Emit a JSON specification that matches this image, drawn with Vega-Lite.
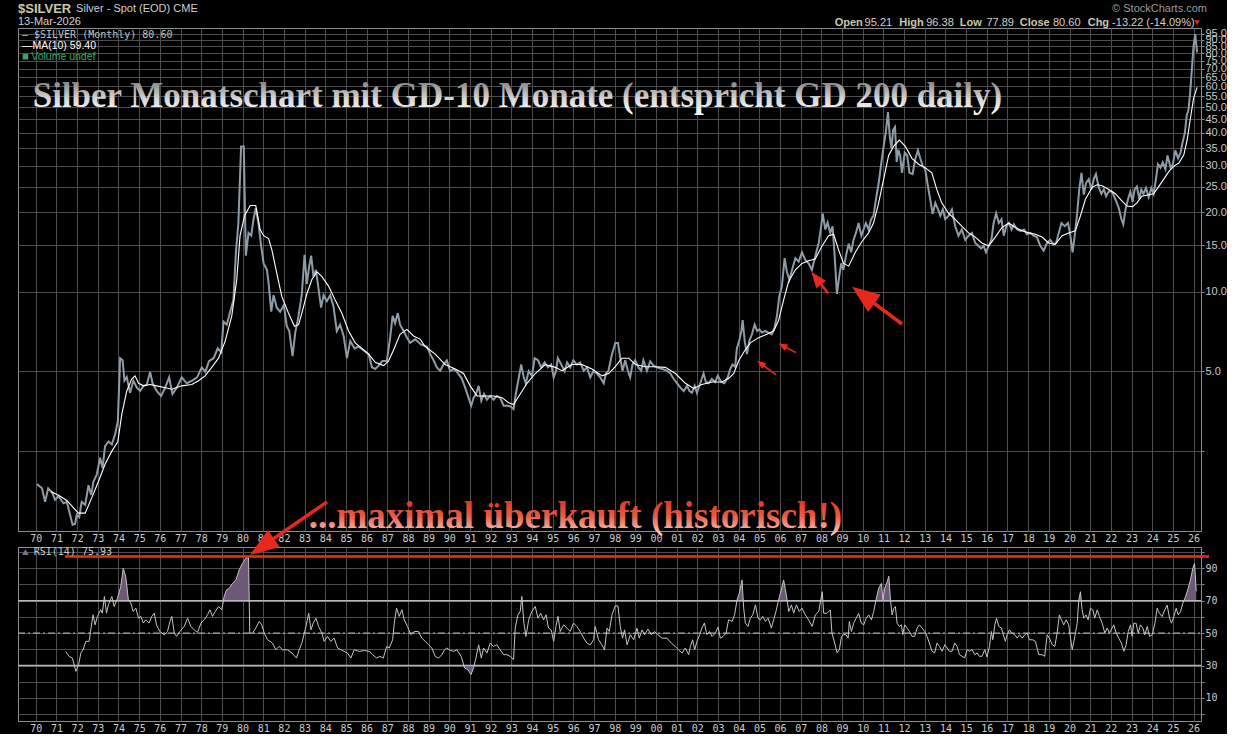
{
"$schema":"https://vega.github.io/schema/vega-lite/v6.json",
"background":"#000000",
"padding":{"left":16,"top":2,"right":0,"bottom":0},
"config":{"view":{"stroke":"#8c8c8c","strokeWidth":1},"axis":{"gridColor":"#4d4d4d","domain":false,"labelColor":"#c8c8c8","labelOverlap":false,"labelSeparation":0}},
"spacing":16,
"bounds":"flush",
"datasets":{
"price":[{"t":1970.05,"v":1.87},{"t":1970.3,"v":1.8},{"t":1970.45,"v":1.6},{"t":1970.6,"v":1.8},{"t":1970.8,"v":1.73},{"t":1970.93,"v":1.63},{"t":1971.1,"v":1.68},{"t":1971.34,"v":1.58},{"t":1971.5,"v":1.6},{"t":1971.66,"v":1.43},{"t":1971.78,"v":1.31},{"t":1971.9,"v":1.32},{"t":1971.98,"v":1.43},{"t":1972.1,"v":1.4},{"t":1972.22,"v":1.6},{"t":1972.39,"v":1.56},{"t":1972.55,"v":1.85},{"t":1972.68,"v":1.7},{"t":1972.79,"v":1.91},{"t":1972.95,"v":2.03},{"t":1973.11,"v":2.35},{"t":1973.23,"v":2.15},{"t":1973.35,"v":2.6},{"t":1973.52,"v":2.71},{"t":1973.68,"v":2.64},{"t":1973.84,"v":2.89},{"t":1973.97,"v":3.24},{"t":1974.08,"v":5.6},{"t":1974.2,"v":5.5},{"t":1974.29,"v":4.6},{"t":1974.4,"v":4.75},{"t":1974.56,"v":4.14},{"t":1974.72,"v":4.6},{"t":1974.89,"v":4.33},{"t":1975.05,"v":4.21},{"t":1975.21,"v":4.4},{"t":1975.37,"v":4.45},{"t":1975.53,"v":4.97},{"t":1975.65,"v":4.5},{"t":1975.85,"v":4.21},{"t":1976.06,"v":4.03},{"t":1976.26,"v":4.33},{"t":1976.45,"v":4.74},{"t":1976.61,"v":4.1},{"t":1976.82,"v":4.33},{"t":1977.06,"v":4.74},{"t":1977.3,"v":4.5},{"t":1977.55,"v":4.6},{"t":1977.8,"v":4.74},{"t":1978.03,"v":5.17},{"t":1978.2,"v":4.97},{"t":1978.38,"v":5.46},{"t":1978.6,"v":5.6},{"t":1978.8,"v":6.1},{"t":1978.97,"v":5.9},{"t":1979.08,"v":7.7},{"t":1979.24,"v":7.5},{"t":1979.4,"v":8.4},{"t":1979.56,"v":9.3},{"t":1979.68,"v":14.1},{"t":1979.8,"v":18.2},{"t":1979.93,"v":35.5},{"t":1980.06,"v":35.5},{"t":1980.16,"v":13.7},{"t":1980.29,"v":16.7},{"t":1980.42,"v":16.3},{"t":1980.53,"v":18.8},{"t":1980.64,"v":20.7},{"t":1980.77,"v":18.2},{"t":1980.9,"v":14.9},{"t":1981.02,"v":12.8},{"t":1981.18,"v":12.1},{"t":1981.26,"v":10.8},{"t":1981.39,"v":8.4},{"t":1981.5,"v":9.7},{"t":1981.66,"v":8.7},{"t":1981.82,"v":8.4},{"t":1982.0,"v":8.9},{"t":1982.14,"v":7.4},{"t":1982.26,"v":7.1},{"t":1982.42,"v":5.7},{"t":1982.55,"v":7.0},{"t":1982.71,"v":8.1},{"t":1982.87,"v":9.8},{"t":1983.0,"v":13.8},{"t":1983.11,"v":10.7},{"t":1983.22,"v":12.4},{"t":1983.32,"v":13.7},{"t":1983.43,"v":11.4},{"t":1983.55,"v":12.1},{"t":1983.68,"v":10.2},{"t":1983.8,"v":8.7},{"t":1983.92,"v":9.7},{"t":1984.08,"v":9.2},{"t":1984.24,"v":9.7},{"t":1984.4,"v":8.8},{"t":1984.56,"v":7.1},{"t":1984.72,"v":7.5},{"t":1984.89,"v":6.8},{"t":1985.05,"v":5.6},{"t":1985.21,"v":6.5},{"t":1985.42,"v":6.1},{"t":1985.6,"v":6.2},{"t":1985.85,"v":6.0},{"t":1986.1,"v":5.8},{"t":1986.26,"v":5.17},{"t":1986.42,"v":5.1},{"t":1986.58,"v":5.25},{"t":1986.76,"v":5.46},{"t":1986.98,"v":5.46},{"t":1987.14,"v":6.7},{"t":1987.26,"v":8.1},{"t":1987.38,"v":7.6},{"t":1987.51,"v":8.3},{"t":1987.62,"v":7.5},{"t":1987.79,"v":7.1},{"t":1987.95,"v":6.7},{"t":1988.11,"v":6.4},{"t":1988.35,"v":6.6},{"t":1988.64,"v":6.3},{"t":1988.92,"v":6.2},{"t":1989.08,"v":5.8},{"t":1989.24,"v":5.5},{"t":1989.4,"v":5.17},{"t":1989.56,"v":5.02},{"t":1989.72,"v":5.3},{"t":1989.88,"v":5.5},{"t":1990.04,"v":5.0},{"t":1990.2,"v":5.1},{"t":1990.37,"v":4.97},{"t":1990.6,"v":4.7},{"t":1990.77,"v":4.33},{"t":1990.93,"v":3.97},{"t":1991.06,"v":3.7},{"t":1991.18,"v":3.97},{"t":1991.29,"v":4.1},{"t":1991.42,"v":4.4},{"t":1991.55,"v":3.86},{"t":1991.68,"v":4.1},{"t":1991.82,"v":3.9},{"t":1991.98,"v":4.03},{"t":1992.14,"v":3.9},{"t":1992.3,"v":4.03},{"t":1992.46,"v":3.97},{"t":1992.63,"v":3.7},{"t":1992.8,"v":3.7},{"t":1992.95,"v":3.68},{"t":1993.11,"v":3.59},{"t":1993.22,"v":4.1},{"t":1993.35,"v":4.67},{"t":1993.48,"v":5.3},{"t":1993.6,"v":4.74},{"t":1993.7,"v":4.5},{"t":1993.84,"v":5.0},{"t":1994.0,"v":4.8},{"t":1994.13,"v":5.6},{"t":1994.29,"v":5.5},{"t":1994.45,"v":5.17},{"t":1994.61,"v":5.4},{"t":1994.77,"v":5.17},{"t":1994.93,"v":5.3},{"t":1995.05,"v":4.74},{"t":1995.16,"v":5.0},{"t":1995.25,"v":5.6},{"t":1995.42,"v":5.3},{"t":1995.58,"v":5.0},{"t":1995.7,"v":5.4},{"t":1995.85,"v":5.17},{"t":1996.0,"v":5.5},{"t":1996.17,"v":5.3},{"t":1996.33,"v":5.4},{"t":1996.5,"v":5.02},{"t":1996.66,"v":5.17},{"t":1996.82,"v":4.74},{"t":1996.98,"v":5.02},{"t":1997.14,"v":4.9},{"t":1997.3,"v":4.74},{"t":1997.47,"v":4.5},{"t":1997.58,"v":4.9},{"t":1997.7,"v":5.02},{"t":1997.87,"v":5.8},{"t":1998.03,"v":6.4},{"t":1998.16,"v":6.4},{"t":1998.27,"v":5.6},{"t":1998.38,"v":5.02},{"t":1998.51,"v":5.5},{"t":1998.64,"v":5.02},{"t":1998.75,"v":4.74},{"t":1998.86,"v":5.3},{"t":1998.99,"v":5.5},{"t":1999.15,"v":5.17},{"t":1999.28,"v":5.02},{"t":1999.39,"v":5.5},{"t":1999.56,"v":5.02},{"t":1999.72,"v":5.45},{"t":1999.88,"v":5.25},{"t":2000.04,"v":5.17},{"t":2000.29,"v":5.1},{"t":2000.53,"v":5.02},{"t":2000.69,"v":4.9},{"t":2000.86,"v":4.67},{"t":2001.02,"v":4.5},{"t":2001.18,"v":4.33},{"t":2001.34,"v":4.2},{"t":2001.5,"v":4.4},{"t":2001.62,"v":4.2},{"t":2001.74,"v":4.14},{"t":2001.87,"v":4.4},{"t":2001.98,"v":4.14},{"t":2002.14,"v":4.5},{"t":2002.3,"v":4.9},{"t":2002.41,"v":4.55},{"t":2002.54,"v":4.5},{"t":2002.7,"v":4.67},{"t":2002.86,"v":4.55},{"t":2002.99,"v":4.8},{"t":2003.15,"v":4.55},{"t":2003.31,"v":4.5},{"t":2003.47,"v":4.74},{"t":2003.59,"v":5.1},{"t":2003.7,"v":5.3},{"t":2003.83,"v":5.2},{"t":2003.91,"v":6.1},{"t":2004.02,"v":6.5},{"t":2004.13,"v":7.1},{"t":2004.19,"v":7.8},{"t":2004.29,"v":6.5},{"t":2004.4,"v":5.8},{"t":2004.51,"v":6.5},{"t":2004.64,"v":6.9},{"t":2004.77,"v":7.5},{"t":2004.89,"v":7.1},{"t":2005.0,"v":7.2},{"t":2005.12,"v":7.0},{"t":2005.28,"v":7.1},{"t":2005.44,"v":7.0},{"t":2005.6,"v":6.9},{"t":2005.73,"v":7.3},{"t":2005.85,"v":8.1},{"t":2005.96,"v":9.6},{"t":2006.09,"v":10.5},{"t":2006.22,"v":13.4},{"t":2006.33,"v":11.9},{"t":2006.45,"v":11.1},{"t":2006.58,"v":12.1},{"t":2006.74,"v":13.4},{"t":2006.9,"v":13.0},{"t":2007.06,"v":14.1},{"t":2007.22,"v":13.2},{"t":2007.38,"v":12.8},{"t":2007.54,"v":12.1},{"t":2007.78,"v":14.4},{"t":2007.87,"v":15.3},{"t":2007.99,"v":17.7},{"t":2008.06,"v":19.8},{"t":2008.19,"v":17.2},{"t":2008.3,"v":18.3},{"t":2008.43,"v":16.7},{"t":2008.54,"v":17.7},{"t":2008.64,"v":13.7},{"t":2008.75,"v":9.8},{"t":2008.86,"v":11.4},{"t":2008.96,"v":12.8},{"t":2009.06,"v":12.1},{"t":2009.19,"v":13.7},{"t":2009.32,"v":15.2},{"t":2009.44,"v":14.1},{"t":2009.55,"v":15.7},{"t":2009.67,"v":16.7},{"t":2009.8,"v":18.2},{"t":2009.93,"v":16.3},{"t":2010.04,"v":17.2},{"t":2010.15,"v":18.2},{"t":2010.28,"v":17.2},{"t":2010.4,"v":18.8},{"t":2010.52,"v":19.4},{"t":2010.64,"v":22.4},{"t":2010.77,"v":25.8},{"t":2010.9,"v":30.9},{"t":2011.01,"v":35.5},{"t":2011.12,"v":40.4},{"t":2011.22,"v":47.9},{"t":2011.31,"v":38.5},{"t":2011.39,"v":35.0},{"t":2011.47,"v":41.0},{"t":2011.56,"v":42.0},{"t":2011.64,"v":31.0},{"t":2011.72,"v":34.5},{"t":2011.81,"v":32.7},{"t":2011.9,"v":28.2},{"t":2012.03,"v":33.6},{"t":2012.15,"v":32.8},{"t":2012.26,"v":28.2},{"t":2012.41,"v":27.9},{"t":2012.54,"v":31.8},{"t":2012.67,"v":34.3},{"t":2012.79,"v":31.8},{"t":2012.9,"v":30.0},{"t":2013.02,"v":29.1},{"t":2013.15,"v":25.2},{"t":2013.26,"v":22.4},{"t":2013.38,"v":19.7},{"t":2013.51,"v":21.7},{"t":2013.64,"v":20.5},{"t":2013.75,"v":19.4},{"t":2013.87,"v":20.5},{"t":2013.99,"v":18.8},{"t":2014.15,"v":19.4},{"t":2014.31,"v":20.5},{"t":2014.47,"v":17.7},{"t":2014.63,"v":16.3},{"t":2014.79,"v":17.2},{"t":2014.96,"v":15.7},{"t":2015.12,"v":16.3},{"t":2015.28,"v":16.7},{"t":2015.44,"v":15.3},{"t":2015.6,"v":14.9},{"t":2015.73,"v":14.6},{"t":2015.85,"v":14.9},{"t":2015.96,"v":14.1},{"t":2016.09,"v":14.9},{"t":2016.22,"v":15.7},{"t":2016.33,"v":18.2},{"t":2016.45,"v":19.8},{"t":2016.58,"v":18.2},{"t":2016.71,"v":18.8},{"t":2016.82,"v":16.3},{"t":2016.94,"v":17.7},{"t":2017.07,"v":18.2},{"t":2017.2,"v":17.2},{"t":2017.31,"v":18.0},{"t":2017.47,"v":17.2},{"t":2017.63,"v":17.0},{"t":2017.8,"v":17.2},{"t":2017.94,"v":16.5},{"t":2018.1,"v":16.7},{"t":2018.26,"v":16.3},{"t":2018.42,"v":16.1},{"t":2018.59,"v":14.9},{"t":2018.75,"v":14.3},{"t":2018.91,"v":15.3},{"t":2019.07,"v":15.7},{"t":2019.23,"v":15.1},{"t":2019.35,"v":15.3},{"t":2019.48,"v":16.7},{"t":2019.61,"v":18.2},{"t":2019.77,"v":17.7},{"t":2019.93,"v":18.2},{"t":2020.04,"v":16.3},{"t":2020.15,"v":14.1},{"t":2020.25,"v":16.3},{"t":2020.36,"v":19.4},{"t":2020.47,"v":24.4},{"t":2020.58,"v":28.2},{"t":2020.69,"v":23.3},{"t":2020.8,"v":25.8},{"t":2020.93,"v":26.7},{"t":2021.06,"v":24.4},{"t":2021.17,"v":26.7},{"t":2021.28,"v":27.9},{"t":2021.41,"v":24.9},{"t":2021.54,"v":23.5},{"t":2021.66,"v":24.4},{"t":2021.77,"v":23.0},{"t":2021.9,"v":24.0},{"t":2022.06,"v":23.9},{"t":2022.22,"v":22.4},{"t":2022.38,"v":20.8},{"t":2022.51,"v":18.8},{"t":2022.6,"v":18.0},{"t":2022.7,"v":20.3},{"t":2022.83,"v":22.4},{"t":2022.94,"v":23.9},{"t":2023.05,"v":21.9},{"t":2023.15,"v":24.4},{"t":2023.26,"v":25.0},{"t":2023.38,"v":22.4},{"t":2023.47,"v":24.4},{"t":2023.58,"v":23.5},{"t":2023.7,"v":24.7},{"t":2023.83,"v":22.8},{"t":2023.96,"v":24.7},{"t":2024.07,"v":23.5},{"t":2024.18,"v":26.7},{"t":2024.28,"v":30.4},{"t":2024.4,"v":29.5},{"t":2024.51,"v":30.9},{"t":2024.64,"v":29.1},{"t":2024.74,"v":32.8},{"t":2024.89,"v":29.5},{"t":2025.0,"v":30.4},{"t":2025.12,"v":34.3},{"t":2025.25,"v":32.0},{"t":2025.37,"v":33.6},{"t":2025.47,"v":36.8},{"t":2025.58,"v":40.0},{"t":2025.67,"v":46.5},{"t":2025.75,"v":48.5},{"t":2025.83,"v":56.0},{"t":2025.92,"v":70.0},{"t":2026.0,"v":85.0},{"t":2026.08,"v":94.5},{"t":2026.17,"v":80.6}],
"ma":[{"t":1970.74,"v":1.75},{"t":1971.18,"v":1.68},{"t":1971.5,"v":1.62},{"t":1972.06,"v":1.45},{"t":1972.39,"v":1.45},{"t":1972.71,"v":1.66},{"t":1973.03,"v":1.91},{"t":1973.35,"v":2.22},{"t":1973.68,"v":2.49},{"t":1973.97,"v":2.71},{"t":1974.16,"v":3.43},{"t":1974.4,"v":4.21},{"t":1974.64,"v":4.67},{"t":1974.8,"v":4.8},{"t":1974.97,"v":4.5},{"t":1975.21,"v":4.4},{"t":1975.53,"v":4.45},{"t":1975.85,"v":4.4},{"t":1976.26,"v":4.33},{"t":1976.58,"v":4.27},{"t":1977.06,"v":4.4},{"t":1977.55,"v":4.45},{"t":1977.87,"v":4.6},{"t":1978.19,"v":4.8},{"t":1978.51,"v":5.17},{"t":1978.84,"v":5.6},{"t":1979.16,"v":6.5},{"t":1979.48,"v":8.1},{"t":1979.72,"v":11.1},{"t":1979.88,"v":16.3},{"t":1980.1,"v":19.4},{"t":1980.37,"v":21.2},{"t":1980.64,"v":21.2},{"t":1980.85,"v":17.2},{"t":1981.02,"v":16.3},{"t":1981.26,"v":15.9},{"t":1981.42,"v":14.4},{"t":1981.66,"v":11.7},{"t":1981.9,"v":9.6},{"t":1982.22,"v":8.3},{"t":1982.51,"v":7.4},{"t":1982.71,"v":7.5},{"t":1982.87,"v":8.3},{"t":1983.11,"v":9.8},{"t":1983.35,"v":11.1},{"t":1983.6,"v":11.9},{"t":1983.84,"v":11.4},{"t":1984.16,"v":10.5},{"t":1984.48,"v":9.3},{"t":1984.8,"v":8.3},{"t":1985.13,"v":7.1},{"t":1985.45,"v":6.4},{"t":1985.77,"v":6.1},{"t":1986.1,"v":5.8},{"t":1986.42,"v":5.4},{"t":1986.82,"v":5.25},{"t":1987.06,"v":5.46},{"t":1987.3,"v":6.0},{"t":1987.62,"v":6.9},{"t":1987.95,"v":7.2},{"t":1988.27,"v":6.8},{"t":1988.6,"v":6.6},{"t":1988.83,"v":6.2},{"t":1989.32,"v":5.8},{"t":1989.8,"v":5.3},{"t":1990.29,"v":5.1},{"t":1990.69,"v":4.9},{"t":1991.01,"v":4.4},{"t":1991.34,"v":4.03},{"t":1991.74,"v":4.03},{"t":1992.14,"v":4.03},{"t":1992.55,"v":3.97},{"t":1992.87,"v":3.8},{"t":1993.11,"v":3.74},{"t":1993.43,"v":4.1},{"t":1993.76,"v":4.5},{"t":1994.16,"v":4.9},{"t":1994.64,"v":5.3},{"t":1995.13,"v":5.17},{"t":1995.45,"v":5.02},{"t":1995.94,"v":5.3},{"t":1996.42,"v":5.3},{"t":1996.9,"v":5.1},{"t":1997.39,"v":4.8},{"t":1997.71,"v":4.9},{"t":1998.03,"v":5.2},{"t":1998.35,"v":5.6},{"t":1998.68,"v":5.6},{"t":1999.0,"v":5.3},{"t":1999.48,"v":5.2},{"t":1999.97,"v":5.2},{"t":2000.45,"v":5.17},{"t":2000.94,"v":4.9},{"t":2001.42,"v":4.5},{"t":2001.82,"v":4.3},{"t":2002.22,"v":4.45},{"t":2002.71,"v":4.55},{"t":2003.19,"v":4.55},{"t":2003.52,"v":4.7},{"t":2003.76,"v":4.9},{"t":2004.0,"v":5.48},{"t":2004.24,"v":5.9},{"t":2004.56,"v":6.4},{"t":2004.96,"v":6.7},{"t":2005.36,"v":6.9},{"t":2005.69,"v":7.1},{"t":2005.93,"v":7.8},{"t":2006.17,"v":9.3},{"t":2006.41,"v":10.9},{"t":2006.74,"v":12.1},{"t":2007.06,"v":12.8},{"t":2007.38,"v":13.1},{"t":2007.7,"v":13.3},{"t":2008.03,"v":14.9},{"t":2008.35,"v":16.3},{"t":2008.59,"v":16.5},{"t":2008.83,"v":14.4},{"t":2009.07,"v":12.8},{"t":2009.32,"v":12.5},{"t":2009.64,"v":14.1},{"t":2009.96,"v":15.5},{"t":2010.28,"v":16.7},{"t":2010.52,"v":18.2},{"t":2010.77,"v":21.7},{"t":2011.01,"v":26.7},{"t":2011.25,"v":32.8},{"t":2011.49,"v":35.5},{"t":2011.77,"v":37.5},{"t":2012.06,"v":35.5},{"t":2012.38,"v":32.0},{"t":2012.7,"v":30.4},{"t":2013.02,"v":29.5},{"t":2013.34,"v":28.2},{"t":2013.58,"v":24.4},{"t":2013.82,"v":21.7},{"t":2014.15,"v":19.8},{"t":2014.47,"v":18.8},{"t":2014.79,"v":17.7},{"t":2015.12,"v":16.7},{"t":2015.44,"v":16.1},{"t":2015.76,"v":15.3},{"t":2016.09,"v":14.9},{"t":2016.41,"v":16.1},{"t":2016.73,"v":17.5},{"t":2017.06,"v":18.2},{"t":2017.38,"v":17.5},{"t":2017.7,"v":17.0},{"t":2018.03,"v":16.7},{"t":2018.35,"v":16.5},{"t":2018.67,"v":16.1},{"t":2018.99,"v":15.3},{"t":2019.31,"v":15.1},{"t":2019.64,"v":16.3},{"t":2019.96,"v":16.7},{"t":2020.28,"v":17.0},{"t":2020.53,"v":19.4},{"t":2020.77,"v":22.4},{"t":2021.1,"v":24.9},{"t":2021.34,"v":25.4},{"t":2021.58,"v":25.2},{"t":2021.9,"v":24.4},{"t":2022.22,"v":23.5},{"t":2022.51,"v":22.2},{"t":2022.78,"v":21.1},{"t":2023.05,"v":21.0},{"t":2023.26,"v":21.7},{"t":2023.5,"v":23.0},{"t":2023.83,"v":23.3},{"t":2024.07,"v":23.5},{"t":2024.31,"v":25.0},{"t":2024.56,"v":26.7},{"t":2024.8,"v":28.5},{"t":2025.05,"v":29.9},{"t":2025.29,"v":30.7},{"t":2025.53,"v":33.0},{"t":2025.69,"v":37.6},{"t":2025.85,"v":45.5},{"t":2026.0,"v":54.0},{"t":2026.17,"v":59.4}],
"rsi":[{"t":1971.45,"r":38.7},{"t":1971.61,"r":35.6},{"t":1971.77,"r":34.6},{"t":1971.94,"r":26.4},{"t":1972.07,"r":30.5},{"t":1972.18,"r":37.7},{"t":1972.29,"r":39.7},{"t":1972.42,"r":44.9},{"t":1972.58,"r":44.9},{"t":1972.66,"r":52},{"t":1972.77,"r":61.3},{"t":1972.87,"r":55.1},{"t":1972.98,"r":60.3},{"t":1973.14,"r":64.4},{"t":1973.22,"r":62.3},{"t":1973.32,"r":72.6},{"t":1973.42,"r":62.3},{"t":1973.51,"r":67.4},{"t":1973.68,"r":72.6},{"t":1973.79,"r":66.4},{"t":1973.95,"r":71.5},{"t":1974.11,"r":78.7},{"t":1974.23,"r":90},{"t":1974.35,"r":84.9},{"t":1974.48,"r":70.5},{"t":1974.6,"r":68.5},{"t":1974.71,"r":63.3},{"t":1974.84,"r":65.4},{"t":1974.97,"r":59.2},{"t":1975.08,"r":60.3},{"t":1975.2,"r":56.2},{"t":1975.32,"r":58.2},{"t":1975.48,"r":56.2},{"t":1975.61,"r":60.3},{"t":1975.73,"r":62.3},{"t":1975.84,"r":55.1},{"t":1976.0,"r":51},{"t":1976.21,"r":49},{"t":1976.37,"r":51},{"t":1976.49,"r":57.2},{"t":1976.58,"r":60.3},{"t":1976.7,"r":50},{"t":1976.81,"r":48},{"t":1976.97,"r":51},{"t":1977.18,"r":54.1},{"t":1977.34,"r":59.2},{"t":1977.5,"r":54.1},{"t":1977.66,"r":52},{"t":1977.82,"r":50.4},{"t":1977.99,"r":56.2},{"t":1978.15,"r":58.2},{"t":1978.31,"r":61.3},{"t":1978.42,"r":64.4},{"t":1978.55,"r":60.3},{"t":1978.68,"r":63.3},{"t":1978.84,"r":66.4},{"t":1979.0,"r":64.4},{"t":1979.11,"r":72.6},{"t":1979.23,"r":76.7},{"t":1979.36,"r":77.7},{"t":1979.52,"r":80.8},{"t":1979.68,"r":82.8},{"t":1979.84,"r":89},{"t":1980.0,"r":93.1},{"t":1980.16,"r":96.2},{"t":1980.29,"r":96.6},{"t":1980.35,"r":50},{"t":1980.48,"r":50},{"t":1980.64,"r":53.1},{"t":1980.81,"r":57.2},{"t":1980.93,"r":55.1},{"t":1981.05,"r":50},{"t":1981.21,"r":45.9},{"t":1981.45,"r":43.8},{"t":1981.61,"r":39.7},{"t":1981.77,"r":41.8},{"t":1981.94,"r":39.7},{"t":1982.18,"r":39.7},{"t":1982.39,"r":37.7},{"t":1982.61,"r":34.6},{"t":1982.74,"r":39.7},{"t":1982.87,"r":43.8},{"t":1982.99,"r":50},{"t":1983.07,"r":54.1},{"t":1983.2,"r":62.3},{"t":1983.31,"r":52},{"t":1983.42,"r":56.2},{"t":1983.55,"r":59.2},{"t":1983.68,"r":54.1},{"t":1983.84,"r":50},{"t":1983.95,"r":44.9},{"t":1984.11,"r":48},{"t":1984.27,"r":44.9},{"t":1984.43,"r":46.9},{"t":1984.6,"r":40.8},{"t":1984.76,"r":39.7},{"t":1984.92,"r":38.7},{"t":1985.08,"r":37.7},{"t":1985.24,"r":34.6},{"t":1985.4,"r":39.7},{"t":1985.65,"r":38.7},{"t":1985.89,"r":39.3},{"t":1986.13,"r":38.7},{"t":1986.29,"r":36.7},{"t":1986.48,"r":34.6},{"t":1986.65,"r":35.6},{"t":1986.81,"r":34.6},{"t":1986.97,"r":41.8},{"t":1987.1,"r":40.8},{"t":1987.26,"r":45.9},{"t":1987.34,"r":56.2},{"t":1987.45,"r":65.4},{"t":1987.58,"r":60.3},{"t":1987.71,"r":64.4},{"t":1987.82,"r":58.2},{"t":1987.98,"r":54.1},{"t":1988.14,"r":49},{"t":1988.31,"r":51},{"t":1988.51,"r":51},{"t":1988.67,"r":46.9},{"t":1988.84,"r":44.9},{"t":1989.0,"r":42.8},{"t":1989.16,"r":40.8},{"t":1989.32,"r":35.6},{"t":1989.48,"r":34.6},{"t":1989.64,"r":36.7},{"t":1989.77,"r":39.7},{"t":1989.88,"r":40.8},{"t":1990.0,"r":39.7},{"t":1990.21,"r":38.7},{"t":1990.37,"r":39.7},{"t":1990.58,"r":35.6},{"t":1990.74,"r":28.5},{"t":1990.9,"r":27.4},{"t":1991.05,"r":24.4},{"t":1991.17,"r":28.5},{"t":1991.29,"r":34.6},{"t":1991.42,"r":42.8},{"t":1991.55,"r":34.6},{"t":1991.66,"r":40.8},{"t":1991.82,"r":37.7},{"t":1991.98,"r":43.8},{"t":1992.14,"r":41.8},{"t":1992.3,"r":42.8},{"t":1992.46,"r":39.7},{"t":1992.63,"r":36.7},{"t":1992.79,"r":36.7},{"t":1992.95,"r":35.6},{"t":1993.11,"r":33.6},{"t":1993.19,"r":53.1},{"t":1993.32,"r":61.3},{"t":1993.43,"r":63.3},{"t":1993.51,"r":72.6},{"t":1993.61,"r":56.2},{"t":1993.71,"r":47.9},{"t":1993.84,"r":58.2},{"t":1993.99,"r":63.3},{"t":1994.16,"r":66.4},{"t":1994.29,"r":59.2},{"t":1994.42,"r":62.3},{"t":1994.56,"r":58.2},{"t":1994.68,"r":61.3},{"t":1994.8,"r":53.1},{"t":1994.93,"r":52},{"t":1995.05,"r":44.9},{"t":1995.16,"r":54.1},{"t":1995.26,"r":60.3},{"t":1995.37,"r":51},{"t":1995.53,"r":55.1},{"t":1995.69,"r":53.1},{"t":1995.85,"r":51},{"t":1996.01,"r":56.2},{"t":1996.17,"r":54.1},{"t":1996.33,"r":51},{"t":1996.5,"r":46.9},{"t":1996.66,"r":43.8},{"t":1996.82,"r":42.8},{"t":1996.98,"r":45.9},{"t":1997.06,"r":54.1},{"t":1997.22,"r":45.9},{"t":1997.38,"r":42.8},{"t":1997.51,"r":39.7},{"t":1997.63,"r":53.1},{"t":1997.74,"r":51},{"t":1997.87,"r":61.3},{"t":1998.03,"r":66.8},{"t":1998.16,"r":66.8},{"t":1998.27,"r":54.1},{"t":1998.38,"r":46.9},{"t":1998.48,"r":52},{"t":1998.6,"r":42.8},{"t":1998.76,"r":49},{"t":1998.92,"r":45.9},{"t":1999.08,"r":53.1},{"t":1999.19,"r":46.9},{"t":1999.32,"r":52},{"t":1999.45,"r":49},{"t":1999.61,"r":52.5},{"t":1999.77,"r":49},{"t":1999.93,"r":51},{"t":2000.09,"r":49},{"t":2000.29,"r":46.9},{"t":2000.53,"r":46.9},{"t":2000.74,"r":43.8},{"t":2000.93,"r":41.8},{"t":2001.09,"r":39.7},{"t":2001.26,"r":37.7},{"t":2001.42,"r":40.8},{"t":2001.58,"r":36.7},{"t":2001.66,"r":41.8},{"t":2001.77,"r":45.9},{"t":2001.87,"r":39.7},{"t":2001.98,"r":44.9},{"t":2002.11,"r":49},{"t":2002.22,"r":53.1},{"t":2002.34,"r":56.2},{"t":2002.46,"r":49},{"t":2002.58,"r":51},{"t":2002.71,"r":47.9},{"t":2002.87,"r":50},{"t":2003.0,"r":53.7},{"t":2003.11,"r":46.9},{"t":2003.24,"r":47.9},{"t":2003.39,"r":50},{"t":2003.51,"r":58.2},{"t":2003.68,"r":57.2},{"t":2003.8,"r":61.3},{"t":2003.92,"r":70.5},{"t":2004.03,"r":74.6},{"t":2004.16,"r":82.8},{"t":2004.24,"r":65.4},{"t":2004.32,"r":56.2},{"t":2004.45,"r":54.1},{"t":2004.56,"r":59.2},{"t":2004.68,"r":61.3},{"t":2004.81,"r":67.4},{"t":2004.93,"r":59.2},{"t":2005.05,"r":58.2},{"t":2005.16,"r":60.3},{"t":2005.29,"r":57.2},{"t":2005.42,"r":59.2},{"t":2005.58,"r":53.1},{"t":2005.69,"r":58.2},{"t":2005.8,"r":63.3},{"t":2005.93,"r":70.5},{"t":2006.06,"r":76.7},{"t":2006.17,"r":82.8},{"t":2006.26,"r":76.7},{"t":2006.34,"r":70.5},{"t":2006.42,"r":63.3},{"t":2006.55,"r":67.4},{"t":2006.66,"r":62.3},{"t":2006.79,"r":67.4},{"t":2006.93,"r":63.3},{"t":2007.06,"r":65.4},{"t":2007.22,"r":61.3},{"t":2007.38,"r":58.2},{"t":2007.55,"r":54.1},{"t":2007.71,"r":61.3},{"t":2007.87,"r":63.3},{"t":2008.04,"r":75.5},{"t":2008.11,"r":62.2},{"t":2008.27,"r":62.2},{"t":2008.43,"r":64.3},{"t":2008.51,"r":50},{"t":2008.64,"r":43.9},{"t":2008.76,"r":37.8},{"t":2008.87,"r":39.8},{"t":2008.97,"r":48},{"t":2009.08,"r":49},{"t":2009.19,"r":49},{"t":2009.29,"r":46.9},{"t":2009.35,"r":57.1},{"t":2009.45,"r":51},{"t":2009.56,"r":56.1},{"t":2009.68,"r":59.2},{"t":2009.8,"r":62.2},{"t":2009.93,"r":56.1},{"t":2010.05,"r":55.1},{"t":2010.16,"r":59.2},{"t":2010.29,"r":61.2},{"t":2010.42,"r":58.2},{"t":2010.53,"r":63.3},{"t":2010.64,"r":70.4},{"t":2010.77,"r":77.6},{"t":2010.9,"r":80.6},{"t":2010.98,"r":70.4},{"t":2011.06,"r":77.6},{"t":2011.18,"r":81.6},{"t":2011.26,"r":85.1},{"t":2011.34,"r":70.4},{"t":2011.42,"r":61.2},{"t":2011.5,"r":65.3},{"t":2011.58,"r":66.3},{"t":2011.66,"r":56.1},{"t":2011.77,"r":54.1},{"t":2011.87,"r":55.1},{"t":2011.93,"r":49},{"t":2012.03,"r":55.1},{"t":2012.14,"r":53.1},{"t":2012.26,"r":51},{"t":2012.38,"r":48},{"t":2012.51,"r":48},{"t":2012.63,"r":53.1},{"t":2012.74,"r":55.1},{"t":2012.87,"r":53.1},{"t":2013.0,"r":51},{"t":2013.11,"r":48},{"t":2013.22,"r":43.9},{"t":2013.35,"r":38.8},{"t":2013.48,"r":37.8},{"t":2013.59,"r":43.9},{"t":2013.71,"r":41.8},{"t":2013.84,"r":38.8},{"t":2013.97,"r":42.9},{"t":2014.08,"r":40.8},{"t":2014.19,"r":38.8},{"t":2014.32,"r":38.8},{"t":2014.45,"r":43.9},{"t":2014.56,"r":41.8},{"t":2014.68,"r":36.7},{"t":2014.8,"r":35.7},{"t":2014.93,"r":34.7},{"t":2015.05,"r":39.8},{"t":2015.16,"r":38.8},{"t":2015.29,"r":39.8},{"t":2015.42,"r":36.7},{"t":2015.53,"r":37.8},{"t":2015.64,"r":35.7},{"t":2015.77,"r":35.7},{"t":2015.9,"r":39.8},{"t":2016.01,"r":35.3},{"t":2016.13,"r":41.8},{"t":2016.22,"r":51},{"t":2016.29,"r":45.9},{"t":2016.39,"r":55.1},{"t":2016.47,"r":59.2},{"t":2016.58,"r":54.1},{"t":2016.71,"r":53.1},{"t":2016.82,"r":48},{"t":2016.9,"r":44.9},{"t":2016.98,"r":49},{"t":2017.09,"r":52},{"t":2017.22,"r":50},{"t":2017.35,"r":49},{"t":2017.47,"r":46.9},{"t":2017.58,"r":49},{"t":2017.71,"r":46.9},{"t":2017.84,"r":49},{"t":2017.95,"r":50},{"t":2018.06,"r":45.9},{"t":2018.22,"r":45.9},{"t":2018.35,"r":44.9},{"t":2018.51,"r":36.7},{"t":2018.67,"r":36.7},{"t":2018.8,"r":35.7},{"t":2018.92,"r":49},{"t":2019.03,"r":46.9},{"t":2019.16,"r":42.9},{"t":2019.29,"r":41.8},{"t":2019.4,"r":50},{"t":2019.51,"r":61.2},{"t":2019.61,"r":58.2},{"t":2019.72,"r":55.1},{"t":2019.84,"r":58.2},{"t":2019.96,"r":55.1},{"t":2020.05,"r":46.9},{"t":2020.13,"r":39.8},{"t":2020.26,"r":48},{"t":2020.37,"r":56.1},{"t":2020.45,"r":70.4},{"t":2020.53,"r":75.5},{"t":2020.61,"r":64.3},{"t":2020.69,"r":59.2},{"t":2020.8,"r":61.2},{"t":2020.9,"r":58.2},{"t":2021.01,"r":65.3},{"t":2021.13,"r":64.3},{"t":2021.22,"r":59.2},{"t":2021.34,"r":64.3},{"t":2021.45,"r":60.2},{"t":2021.58,"r":56.1},{"t":2021.71,"r":50},{"t":2021.82,"r":53.1},{"t":2021.93,"r":50},{"t":2022.06,"r":53.1},{"t":2022.14,"r":55.1},{"t":2022.26,"r":50},{"t":2022.38,"r":46.9},{"t":2022.51,"r":43.9},{"t":2022.63,"r":38.8},{"t":2022.74,"r":42.9},{"t":2022.84,"r":51},{"t":2022.95,"r":55.1},{"t":2023.03,"r":48},{"t":2023.11,"r":56.1},{"t":2023.22,"r":56.1},{"t":2023.32,"r":50},{"t":2023.43,"r":55.1},{"t":2023.55,"r":53.1},{"t":2023.64,"r":49},{"t":2023.76,"r":54.1},{"t":2023.87,"r":48},{"t":2024.0,"r":49},{"t":2024.13,"r":56.1},{"t":2024.24,"r":65.3},{"t":2024.35,"r":62.2},{"t":2024.48,"r":60.2},{"t":2024.61,"r":64.3},{"t":2024.72,"r":67.3},{"t":2024.84,"r":59.2},{"t":2024.93,"r":56.1},{"t":2025.05,"r":60.2},{"t":2025.16,"r":65.3},{"t":2025.26,"r":61.2},{"t":2025.37,"r":63.3},{"t":2025.48,"r":68.4},{"t":2025.61,"r":72.4},{"t":2025.74,"r":77.6},{"t":2025.85,"r":82.7},{"t":2025.96,"r":89.8},{"t":2026.05,"r":92.9},{"t":2026.13,"r":75.9}],
"ob":[{"g":1,"t":1973.9,"r":70},{"g":1,"t":1973.95,"r":71.5},{"g":1,"t":1974.11,"r":78.7},{"g":1,"t":1974.23,"r":90},{"g":1,"t":1974.35,"r":84.9},{"g":1,"t":1974.48,"r":70.5},{"g":1,"t":1974.51,"r":70},{"g":2,"t":1979.075,"r":70},{"g":2,"t":1979.11,"r":72.6},{"g":2,"t":1979.23,"r":76.7},{"g":2,"t":1979.36,"r":77.7},{"g":2,"t":1979.52,"r":80.8},{"g":2,"t":1979.68,"r":82.8},{"g":2,"t":1979.84,"r":89},{"g":2,"t":1980.0,"r":93.1},{"g":2,"t":1980.16,"r":96.2},{"g":2,"t":1980.29,"r":96.6},{"g":2,"t":1980.324,"r":70},{"g":3,"t":2003.91,"r":70},{"g":3,"t":2003.92,"r":70.5},{"g":3,"t":2004.03,"r":74.6},{"g":3,"t":2004.16,"r":82.8},{"g":3,"t":2004.219,"r":70},{"g":4,"t":2005.92,"r":70},{"g":4,"t":2005.93,"r":70.5},{"g":4,"t":2006.06,"r":76.7},{"g":4,"t":2006.17,"r":82.8},{"g":4,"t":2006.26,"r":76.7},{"g":4,"t":2006.34,"r":70.5},{"g":4,"t":2006.345,"r":70},{"g":5,"t":2007.963,"r":70},{"g":5,"t":2008.04,"r":75.5},{"g":5,"t":2008.069,"r":70},{"g":6,"t":2010.634,"r":70},{"g":6,"t":2010.64,"r":70.4},{"g":6,"t":2010.77,"r":77.6},{"g":6,"t":2010.9,"r":80.6},{"g":6,"t":2010.98,"r":70.4},{"g":6,"t":2011.06,"r":77.6},{"g":6,"t":2011.18,"r":81.6},{"g":6,"t":2011.26,"r":85.1},{"g":6,"t":2011.34,"r":70.4},{"g":6,"t":2011.345,"r":70},{"g":7,"t":2020.448,"r":70},{"g":7,"t":2020.45,"r":70.4},{"g":7,"t":2020.53,"r":75.5},{"g":7,"t":2020.569,"r":70},{"g":8,"t":2025.532,"r":70},{"g":8,"t":2025.61,"r":72.4},{"g":8,"t":2025.74,"r":77.6},{"g":8,"t":2025.85,"r":82.7},{"g":8,"t":2025.96,"r":89.8},{"g":8,"t":2026.05,"r":92.9},{"g":8,"t":2026.13,"r":75.9},{"g":8,"t":2026.131,"r":70}],
"os":[{"t":1990.706,"r":30},{"t":1990.74,"r":28.5},{"t":1990.9,"r":27.4},{"t":1991.05,"r":24.4},{"t":1991.17,"r":28.5},{"t":1991.2,"r":30}],
"shafts":[{"a":"big","t":2011.90,"v":7.546,"t2":2010.02,"v2":9.71},{"a":"medium","t":2008.32,"v":9.86,"t2":2007.75,"v2":11.27},{"a":"small","t":2006.77,"v":5.875,"t2":2006.10,"v2":6.27},{"a":"small","t":2005.81,"v":4.84,"t2":2005.04,"v2":5.36}]
},
"vconcat":[
{"width":1183,"height":503,
"encoding":{
"x":{"field":"t","type":"quantitative","scale":{"domain":[1969.14,2026.36]},"axis":{"title":null,"values":[1970,1971,1972,1973,1974,1975,1976,1977,1978,1979,1980,1981,1982,1983,1984,1985,1986,1987,1988,1989,1990,1991,1992,1993,1994,1995,1996,1997,1998,1999,2000,2001,2002,2003,2004,2005,2006,2007,2008,2009,2010,2011,2012,2013,2014,2015,2016,2017,2018,2019,2020,2021,2022,2023,2024,2025,2026],"tickCount":57,"labelExpr":"slice(format(datum.value,'d'),2)","grid":true,"ticks":false,"labelPadding":2,"labelFlush":false,"labelOverlap":false,"labelFont":"DejaVu Sans Mono","labelFontSize":10,"labelColor":"#cccccc"}},
"y":{"field":"v","type":"quantitative","scale":{"type":"log","domain":[1.241,99.7]},"axis":{"title":null,"orient":"right","values":[2.5,5,10,15,20,25,30,35,40,45,50,55,60,65,70,75,80,85,90,95],"labelExpr":"datum.value < 4 ? '' : format(datum.value,'.1f')","grid":true,"ticks":true,"tickSize":3,"tickColor":"#8c8c8c","labelPadding":1,"labelOverlap":false,"labelFont":"Liberation Sans","labelFontSize":11,"labelColor":"#c8c8c8"}}},
"layer":[
{"data":{"name":"price"},"mark":{"type":"line","color":"#8e9ca8","strokeWidth":2}},
{"data":{"name":"ma"},"mark":{"type":"line","color":"#ffffff","strokeWidth":1.1}},
{"data":{"name":"shafts"},"mark":{"type":"rule","color":"#e8281e"},
"encoding":{"x2":{"field":"t2"},"y2":{"field":"v2"},"size":{"field":"a","type":"nominal","scale":{"type":"ordinal","domain":["big","medium","small"],"range":[3.5,2.5,1.5]},"legend":null}}},
{"data":{"values":[{"t":2009.48,"v":10.45}]},"mark":{"type":"point","shape":"M0,0L0.38,1L-0.38,1Z","filled":true,"size":3136,"angle":306.7,"color":"#e8281e","opacity":1,"strokeWidth":0}},
{"data":{"values":[{"t":2007.51,"v":11.9}]},"mark":{"type":"point","shape":"M0,0L0.38,1L-0.38,1Z","filled":true,"size":1024,"angle":322.3,"color":"#e8281e","opacity":1,"strokeWidth":0}},
{"data":{"values":[{"t":2005.93,"v":6.37}]},"mark":{"type":"point","shape":"M0,0L0.4,1L-0.4,1Z","filled":true,"size":324,"angle":298.5,"color":"#e8281e","opacity":1,"strokeWidth":0}},
{"data":{"values":[{"t":2004.89,"v":5.48}]},"mark":{"type":"point","shape":"M0,0L0.4,1L-0.4,1Z","filled":true,"size":324,"angle":307,"color":"#e8281e","opacity":1,"strokeWidth":0}},
{"data":{"values":[{"t":1969.85,"v":50.1,"s":"Silber Monatschart mit GD-10 Monate (entspricht GD 200 daily)"}]},
"mark":{"type":"text","align":"left","baseline":"alphabetic","font":"Liberation Serif","fontWeight":"bold","fontSize":35,"fill":{"gradient":"linear","x1":0,"y1":0,"x2":0,"y2":1,"stops":[{"offset":0,"color":"#6a6a6a"},{"offset":0.6,"color":"#d8d8d8"},{"offset":1,"color":"#ffffff"}]}},
"encoding":{"text":{"field":"s"}}},
{"data":{"values":[{"t":1983.2,"v":1.273,"s":"...maximal überkauft (historisch!)"}]},
"mark":{"type":"text","align":"left","baseline":"alphabetic","font":"Liberation Serif","fontWeight":"bold","fontSize":37,"fill":{"gradient":"linear","x1":0,"y1":0,"x2":0,"y2":1,"stops":[{"offset":0,"color":"#dc2a18"},{"offset":0.5,"color":"#ea5a44"},{"offset":1,"color":"#fbe2d8"}]}},
"encoding":{"text":{"field":"s"}}},
{"data":{"values":[{"t":1969.14,"v":117.6,"s":"$SILVER"}]},
"mark":{"type":"text","align":"left","baseline":"middle","font":"Liberation Sans","fontWeight":"bold","fontSize":13,"color":"#c9c9a6"},
"encoding":{"text":{"field":"s"}}},
{"data":{"values":[{"t":2008.64,"v":104.4,"s":"Open"},{"t":2011.77,"v":104.4,"s":"High"},{"t":2014.69,"v":104.4,"s":"Low"},{"t":2017.59,"v":104.4,"s":"Close"},{"t":2020.88,"v":104.4,"s":"Chg"}]},
"mark":{"type":"text","align":"left","baseline":"middle","font":"Liberation Sans","fontWeight":"bold","fontSize":11,"color":"#c9c9a6"},
"encoding":{"text":{"field":"s"}}},
{"data":{"values":[{"t":2010.09,"v":104.4,"s":"95.21"},{"t":2013.07,"v":104.4,"s":"96.38"},{"t":2015.98,"v":104.4,"s":"77.89"},{"t":2019.2,"v":104.4,"s":"80.60"},{"t":2022.06,"v":104.4,"s":"-13.22 (-14.09%)"},{"t":1971.95,"v":117.4,"s":"Silver - Spot (EOD) CME"},{"t":1969.14,"v":104.8,"s":"13-Mar-2026"}]},
"mark":{"type":"text","align":"left","baseline":"middle","font":"Liberation Sans","fontSize":11,"color":"#cfcfcf"},
"encoding":{"text":{"field":"s"}}},
{"data":{"values":[{"t":2022.06,"v":117.4,"s":"© StockCharts.com"}]},
"mark":{"type":"text","align":"left","baseline":"middle","font":"Liberation Sans","fontSize":11,"color":"#9c9c9c"},
"encoding":{"text":{"field":"s"}}},
{"data":{"values":[{"t":2026.17,"v":104.4}]},
"mark":{"type":"point","shape":"triangle-down","filled":true,"size":30,"color":"#e8281e","opacity":1}},
{"data":{"values":[{"t":1969.33,"v":93.8,"s":"— $SILVER (Monthly) 80.60"}]},
"mark":{"type":"text","align":"left","baseline":"middle","font":"DejaVu Sans Mono","fontSize":10,"color":"#b9c2ca"},
"encoding":{"text":{"field":"s"}}},
{"data":{"values":[{"t":1969.33,"v":85.5,"s":"—MA(10) 59.40"}]},
"mark":{"type":"text","align":"left","baseline":"middle","font":"Liberation Sans","fontSize":10.5,"color":"#ffffff"},
"encoding":{"text":{"field":"s"}}},
{"data":{"values":[{"t":1969.78,"v":77.6,"s":"Volume undef"}]},
"mark":{"type":"text","align":"left","baseline":"middle","font":"Liberation Sans","fontSize":10.5,"color":"#33a86a"},
"encoding":{"text":{"field":"s"}}},
{"data":{"values":[{"t":1969.5,"v":77.6}]},
"mark":{"type":"point","shape":"square","filled":true,"size":30,"color":"#33a86a","opacity":1}}
]},
{"width":1183,"height":174,
"encoding":{
"x":{"field":"t","type":"quantitative","scale":{"domain":[1969.14,2026.36]},"axis":{"title":null,"values":[1970,1971,1972,1973,1974,1975,1976,1977,1978,1979,1980,1981,1982,1983,1984,1985,1986,1987,1988,1989,1990,1991,1992,1993,1994,1995,1996,1997,1998,1999,2000,2001,2002,2003,2004,2005,2006,2007,2008,2009,2010,2011,2012,2013,2014,2015,2016,2017,2018,2019,2020,2021,2022,2023,2024,2025,2026],"tickCount":57,"labelExpr":"slice(format(datum.value,'d'),2)","grid":true,"ticks":false,"labelPadding":2,"labelFlush":false,"labelOverlap":false,"labelFont":"DejaVu Sans Mono","labelFontSize":10,"labelColor":"#cccccc"}},
"y":{"field":"r","type":"quantitative","scale":{"domain":[-4.2,103.1]},"axis":{"title":null,"orient":"right","values":[0,10,20,30,40,50,60,70,80,90,100],"tickCount":11,"labelExpr":"datum.value % 20 == 10 ? format(datum.value,'d') : ''","grid":true,"ticks":true,"tickSize":3,"tickColor":"#8c8c8c","labelPadding":1,"labelOverlap":false,"labelFont":"DejaVu Sans Mono","labelFontSize":10,"labelColor":"#c8c8c8"}}},
"layer":[
{"data":{"name":"ob"},"mark":{"type":"area","color":"#6f5877","opacity":1},
"encoding":{"y2":{"datum":70},"detail":{"field":"g","type":"nominal"}}},
{"data":{"name":"os"},"mark":{"type":"area","color":"#5a5a8c","opacity":1},
"encoding":{"y2":{"datum":30}}},
{"data":{"values":[{"t":1969.14,"t2":2026.36,"r":70},{"t":1969.14,"t2":2026.36,"r":30}]},"mark":{"type":"rule","color":"#b8b8b8","strokeWidth":1.4},
"encoding":{"x2":{"field":"t2"}}},
{"data":{"values":[{"t":1969.14,"t2":2026.36,"r":50}]},"mark":{"type":"rule","color":"#a8a8a8","strokeWidth":1.2,"strokeDash":[7,3,2,3]},
"encoding":{"x2":{"field":"t2"}}},
{"data":{"name":"rsi"},"mark":{"type":"line","color":"#c4c4c4","strokeWidth":1}},
{"data":{"values":[{"t":1971.41,"t2":2026.75,"r":97.2}]},"mark":{"type":"rule","color":"#e8321e","strokeWidth":2.5},
"encoding":{"x2":{"field":"t2"}}},
{"data":{"values":[{"t":1984.09,"r":130.9,"t2":1980.94,"r2":103.3}]},"mark":{"type":"rule","color":"#e8281e","strokeWidth":3.5},
"encoding":{"x2":{"field":"t2"},"y2":{"field":"r2"}}},
{"data":{"values":[{"t":1980.36,"r":98.2}]},"mark":{"type":"point","shape":"M0,0L0.36,1L-0.36,1Z","filled":true,"size":3364,"angle":235.5,"color":"#e8281e","opacity":1,"strokeWidth":0}},
{"data":{"values":[{"t":1969.9,"r":99.9,"s":"RSI(14) 75.93"}]},
"mark":{"type":"text","align":"left","baseline":"middle","font":"DejaVu Sans Mono","fontSize":10,"color":"#c8c8c8"},
"encoding":{"text":{"field":"s"}}},
{"data":{"values":[{"t":1969.5,"r":99.9}]},
"mark":{"type":"point","shape":"triangle-up","filled":true,"size":45,"color":"#8a6a94","opacity":1}}
]}
]
}
